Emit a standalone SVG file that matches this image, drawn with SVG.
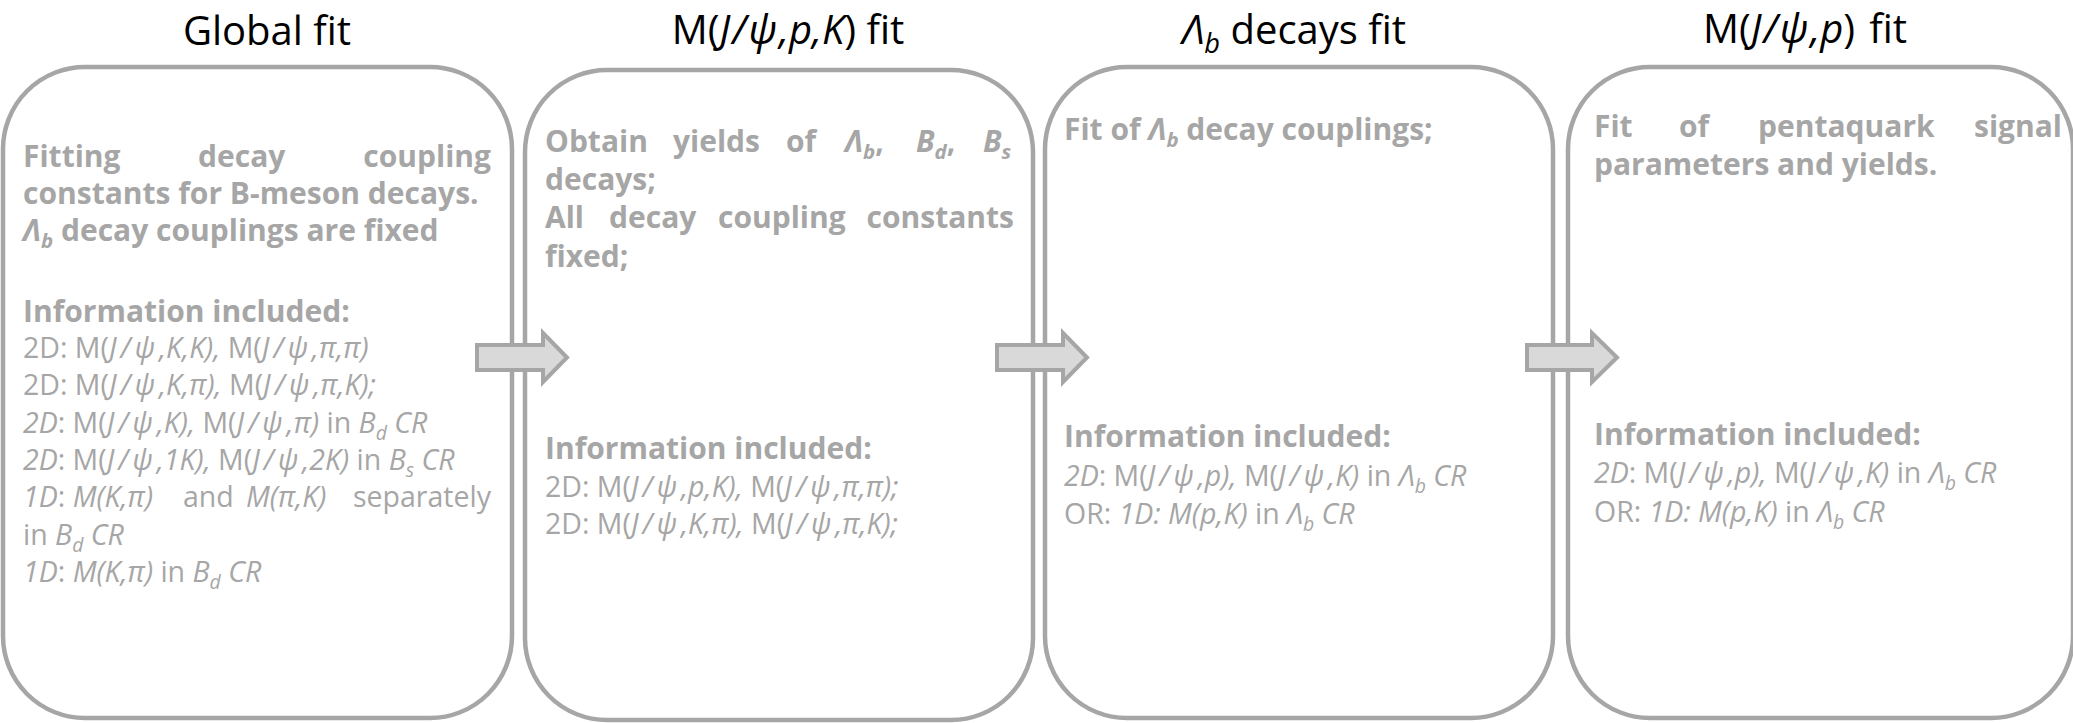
<svg xmlns="http://www.w3.org/2000/svg" width="2073" height="723" viewBox="0 0 2073 723">
<style>
.box{fill:#fff;stroke:#A6A6A6;stroke-width:4.5}
.arr{fill:#D9D9D9;stroke:#A6A6A6;stroke-width:4}
.title{font-family:"Open Sans","Noto Sans",sans-serif;font-size:40px;fill:#000}
.b{font-family:"Open Sans","Noto Sans",sans-serif;font-size:30px;font-weight:bold;fill:#A6A6A6}
.r{font-family:"Open Sans","Noto Sans",sans-serif;font-size:28.5px;fill:#A6A6A6}
.i{font-style:italic}
.jp{font-style:italic;letter-spacing:4px}
.tjp{font-style:italic;letter-spacing:2px}
.sub{font-size:0.68em;font-style:italic}
</style>
<rect width="2073" height="723" fill="#fff"/>

<g id="node-global">
<rect class="box" x="3" y="67" width="509" height="651" rx="82" ry="82"/>
<text class="title" x="267" y="45" text-anchor="middle">Global fit</text>
<text class="b" y="167"><tspan x="23">Fitting</tspan><tspan x="198">decay</tspan><tspan x="491" text-anchor="end">coupling</tspan></text>
<text class="b" x="23" y="204">constants for B-meson decays.</text>
<text class="b" x="23" y="241"><tspan class="i">Λ</tspan><tspan class="sub" dy="7">b</tspan><tspan dy="-7"> decay couplings are fixed</tspan></text>
<text class="b" x="23" y="322">Information included:</text>
<text class="r" x="23" y="358">2D: M(<tspan class="jp">J/ψ</tspan><tspan class="i">,K,K),</tspan> M(<tspan class="jp">J/ψ</tspan><tspan class="i">,π,π)</tspan></text>
<text class="r" x="23" y="395">2D: M(<tspan class="jp">J/ψ</tspan><tspan class="i">,K,π),</tspan> M(<tspan class="jp">J/ψ</tspan><tspan class="i">,π,K);</tspan></text>
<text class="r" x="23" y="433"><tspan class="i">2D</tspan>: M(<tspan class="jp">J/ψ</tspan><tspan class="i">,K),</tspan> M(<tspan class="jp">J/ψ</tspan><tspan class="i">,π)</tspan> in <tspan class="i">B</tspan><tspan class="sub" dy="7">d</tspan><tspan class="i" dy="-7"> CR</tspan></text>
<text class="r" x="23" y="470"><tspan class="i">2D</tspan>: M(<tspan class="jp">J/ψ</tspan><tspan class="i">,1K),</tspan> M(<tspan class="jp">J/ψ</tspan><tspan class="i">,2K)</tspan> in <tspan class="i">B</tspan><tspan class="sub" dy="7">s</tspan><tspan class="i" dy="-7"> CR</tspan></text>
<text class="r" y="507"><tspan x="23"><tspan class="i">1D</tspan>: <tspan class="i">M(K,π)</tspan></tspan><tspan x="183">and</tspan><tspan x="246" class="i">M(π,K)</tspan><tspan x="491" text-anchor="end">separately</tspan></text>
<text class="r" x="23" y="545">in <tspan class="i">B</tspan><tspan class="sub" dy="7">d</tspan><tspan class="i" dy="-7"> CR</tspan></text>
<text class="r" x="23" y="582"><tspan class="i">1D</tspan>: <tspan class="i">M(K,π)</tspan> in <tspan class="i">B</tspan><tspan class="sub" dy="7">d</tspan><tspan class="i" dy="-7"> CR</tspan></text>
</g>

<g id="node-jpsipk">
<rect class="box" x="525" y="70" width="508" height="650" rx="82" ry="82"/>
<text class="title" x="788" y="44" text-anchor="middle">M(<tspan class="tjp">J/ψ</tspan><tspan class="i">,p,K</tspan>) fit</text>
<text class="b" y="152"><tspan x="545">Obtain</tspan><tspan x="673">yields</tspan><tspan x="786">of</tspan><tspan x="845" class="i">Λ</tspan><tspan class="sub" dy="7">b</tspan><tspan dy="-7">,</tspan><tspan x="916" class="i">B</tspan><tspan class="sub" dy="7">d</tspan><tspan dy="-7">,</tspan><tspan x="983" class="i">B</tspan><tspan class="sub" dy="7">s</tspan></text>
<text class="b" x="545" y="190">decays;</text>
<text class="b" y="228"><tspan x="545">All</tspan><tspan x="609">decay</tspan><tspan x="718">coupling</tspan><tspan x="1014" text-anchor="end">constants</tspan></text>
<text class="b" x="545" y="267">fixed;</text>
<text class="b" x="545" y="459">Information included:</text>
<text class="r" x="545" y="497">2D: M(<tspan class="jp">J/ψ</tspan><tspan class="i">,p,K),</tspan> M(<tspan class="jp">J/ψ</tspan><tspan class="i">,π,π);</tspan></text>
<text class="r" x="545" y="534">2D: M(<tspan class="jp">J/ψ</tspan><tspan class="i">,K,π),</tspan> M(<tspan class="jp">J/ψ</tspan><tspan class="i">,π,K);</tspan></text>
</g>

<g id="node-lambdab">
<rect class="box" x="1045" y="67" width="508" height="651" rx="82" ry="82"/>
<text class="title" x="1294" y="44" text-anchor="middle"><tspan class="i">Λ</tspan><tspan class="sub" dy="9">b</tspan><tspan dy="-9"> decays fit</tspan></text>
<text class="b" x="1064" y="140">Fit of <tspan class="i">Λ</tspan><tspan class="sub" dy="7">b</tspan><tspan dy="-7"> decay couplings;</tspan></text>
<text class="b" x="1064" y="447">Information included:</text>
<text class="r" x="1064" y="486"><tspan class="i">2D</tspan>: M(<tspan class="jp">J/ψ</tspan><tspan class="i">,p),</tspan> M(<tspan class="jp">J/ψ</tspan><tspan class="i">,K)</tspan> in <tspan class="i">Λ</tspan><tspan class="sub" dy="7">b</tspan><tspan class="i" dy="-7"> CR</tspan></text>
<text class="r" x="1064" y="524">OR: <tspan class="i">1D: M(p,K)</tspan> in <tspan class="i">Λ</tspan><tspan class="sub" dy="7">b</tspan><tspan class="i" dy="-7"> CR</tspan></text>
</g>

<g id="node-jpsip">
<rect class="box" x="1568" y="67" width="505" height="651" rx="82" ry="82"/>
<text class="title" x="1805" y="43" text-anchor="middle">M(<tspan class="tjp">J/ψ</tspan><tspan class="i">,p</tspan>)<tspan dx="14">fit</tspan></text>
<text class="b" y="137"><tspan x="1594">Fit</tspan><tspan x="1679">of</tspan><tspan x="1758">pentaquark</tspan><tspan x="2062" text-anchor="end">signal</tspan></text>
<text class="b" x="1594" y="175">parameters and yields.</text>
<text class="b" x="1594" y="445">Information included:</text>
<text class="r" x="1594" y="483"><tspan class="i">2D</tspan>: M(<tspan class="jp">J/ψ</tspan><tspan class="i">,p),</tspan> M(<tspan class="jp">J/ψ</tspan><tspan class="i">,K)</tspan> in <tspan class="i">Λ</tspan><tspan class="sub" dy="7">b</tspan><tspan class="i" dy="-7"> CR</tspan></text>
<text class="r" x="1594" y="522">OR: <tspan class="i">1D: M(p,K)</tspan> in <tspan class="i">Λ</tspan><tspan class="sub" dy="7">b</tspan><tspan class="i" dy="-7"> CR</tspan></text>
</g>

<g id="connectors">
<path class="arr" d="M477,345 H543 V333 L567,357.5 L543,382 V370 H477 Z"/>
<path class="arr" d="M997,345 H1063 V333 L1087,357.5 L1063,382 V370 H997 Z"/>
<path class="arr" d="M1527,345 H1592 V333 L1617,357.5 L1592,382 V370 H1527 Z"/>
</g>
</svg>
